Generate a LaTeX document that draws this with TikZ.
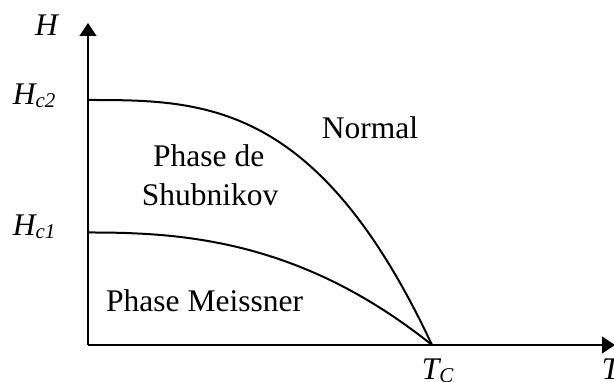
\documentclass[tikz,border=0pt]{standalone}
\usepackage{fontspec}
\setmainfont{Liberation Serif}
\usetikzlibrary{arrows.meta}
\newcommand{\subtxt}[1]{{\fontsize{21}{21}\selectfont\itshape\raisebox{-3pt}{#1}}}
\begin{document}
\begin{tikzpicture}[x=1pt,y=-1pt,
  lbl/.style={inner sep=0pt,anchor=base west,font=\fontsize{31.5}{32}\selectfont},
  axisline/.style={line width=2.2pt,-{Triangle[width=16.7pt,length=13pt]}},
  curve/.style={line width=2pt,line join=round}]
\useasboundingbox (0,0) rectangle (614,382);
\coordinate (O) at (88,345);
\coordinate (Ytop) at (88,23);
\coordinate (Xend) at (615,345);
\coordinate (Tc) at (432,345);
\coordinate (Hc2pt) at (88,100);
\coordinate (Hc1pt) at (88,232.5);
\draw[axisline] (O) -- (Ytop);
\draw[axisline] (O) -- (Xend);
\draw[curve] (Hc2pt) -- plot[domain=0.005:1,samples=80,smooth] ({88+344*\x},{345-245*(1-\x*\x*\x)}) -- (Tc);
\draw[curve] (Hc1pt) -- plot[domain=0.01:1,samples=80,smooth] ({88+344*\x},{345-112.5*(1-pow(\x,2.45))}) -- (Tc);
\node[lbl] (h) at (35,36) {\itshape H};
\node[lbl] (hc2) at (12.7,105) {\itshape H\subtxt{c2}};
\node[lbl] (hc1) at (12.7,236) {\itshape H\subtxt{c1}};
\node[lbl] (tc) at (421.7,380) {\itshape T\subtxt{C}};
\node[lbl] (t) at (601.7,380) {\itshape T};
\node[lbl] (normal) at (321.7,138.3) {Normal};
\node[lbl] (phde) at (153,167) {Phase de};
\node[lbl] (shub) at (141.7,206) {Shubnikov};
\node[lbl] (meis) at (106,311.7) {Phase Meissner};
\end{tikzpicture}
\end{document}
